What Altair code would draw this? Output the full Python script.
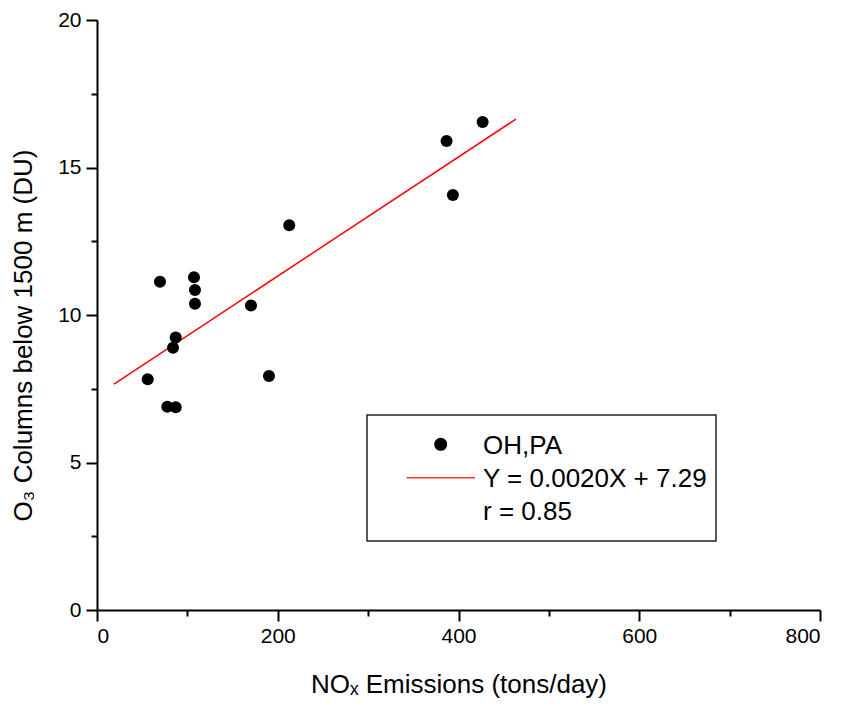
import altair as alt
import pandas as pd

# Scatter data (NOx emissions, O3 columns)
nox = [69.7, 107.3, 108.4, 108.4, 170.4, 87.1, 84.1, 56.1, 190.3, 77.8, 87.1, 426.7, 386.8, 393.8, 212.7]
o3 = [11.13, 11.28, 10.85, 10.38, 10.32, 9.24, 8.89, 7.82, 7.93, 6.89, 6.87, 16.54, 15.90, 14.07, 13.04]

# Fit line endpoints as drawn
fit_x = [18.8, 463.5]
fit_y = [7.66, 16.64]

legend_labels = ["OH,PA", "Y = 0.0020X + 7.29", "r = 0.85"]

x_ticks = [0, 100, 200, 300, 400, 500, 600, 700, 800]
y_ticks = [0, 2.5, 5, 7.5, 10, 12.5, 15, 17.5, 20]

FONT = "Liberation Sans"

pts = pd.DataFrame({"x": nox, "y": o3})
fit = pd.DataFrame({"x": fit_x, "y": fit_y})
one = pd.DataFrame({"k": [0]})

xscale = alt.Scale(domain=[0, 800], nice=False, zero=False)
yscale = alt.Scale(domain=[0, 20], nice=False, zero=False)

xaxis = alt.Axis(
    values=x_ticks,
    labelExpr="datum.value % 200 === 0 ? datum.label : ''",
    tickSize={"condition": {"test": "datum.value % 200 === 0", "value": 11}, "value": 6},
    title="NOₓ Emissions (tons/day)",
    titleX=361.5, titleY=82, titleBaseline="alphabetic", titleAlign="center",
    labelPadding=4,
)
yaxis = alt.Axis(
    values=y_ticks,
    labelExpr="datum.value % 5 === 0 ? datum.label : ''",
    tickSize={"condition": {"test": "datum.value % 5 === 0", "value": 11}, "value": 6},
    title="O₃ Columns below 1500 m (DU)",
    titleX=-66, titleY=315, titleBaseline="alphabetic", titleAlign="center", titleAngle=-90,
    labelPadding=5,
)

line = alt.Chart(fit).mark_line(color="#ff0000", strokeWidth=1.5).encode(
    x=alt.X("x:Q", scale=xscale, axis=xaxis),
    y=alt.Y("y:Q", scale=yscale, axis=yaxis),
)

points = alt.Chart(pts).mark_circle(color="black", opacity=1, size=145).encode(
    x=alt.X("x:Q", scale=xscale),
    y=alt.Y("y:Q", scale=yscale),
)

box = alt.Chart(one).mark_rect(fill="white", stroke="#222222", strokeWidth=1.5).encode(
    x=alt.value(270), x2=alt.value(619), y=alt.value(395), y2=alt.value(521)
)
leg_pt = alt.Chart(one).mark_circle(color="black", opacity=1, size=170).encode(
    x=alt.value(343.7), y=alt.value(424.3)
)
leg_line = alt.Chart(one).mark_rule(color="#ff3333", strokeWidth=1.5).encode(
    x=alt.value(309.7), x2=alt.value(378), y=alt.value(457.7)
)
texts = []
for i, (lab, yy) in enumerate(zip(legend_labels, [434, 467, 500])):
    texts.append(
        alt.Chart(one).mark_text(
            text=lab, font=FONT, fontSize=26, align="left", baseline="alphabetic", color="black"
        ).encode(x=alt.value(386), y=alt.value(yy))
    )

chart = alt.layer(line, points, box, leg_pt, leg_line, *texts).properties(
    width=723, height=590,
    autosize=alt.AutoSizeParams(type="none"),
    padding={"left": 89, "top": 12, "right": 16, "bottom": 92},
).configure_view(stroke=None).configure_axis(
    grid=False,
    domainColor="black", domainWidth=2,
    tickColor="black", tickWidth=2,
    labelFont=FONT, labelFontSize=21, labelColor="black",
    titleFont=FONT, titleFontSize=26, titleFontWeight="normal", titleColor="black",
)

chart.save("out.html", embed_options={"renderer": "svg", "actions": False})
